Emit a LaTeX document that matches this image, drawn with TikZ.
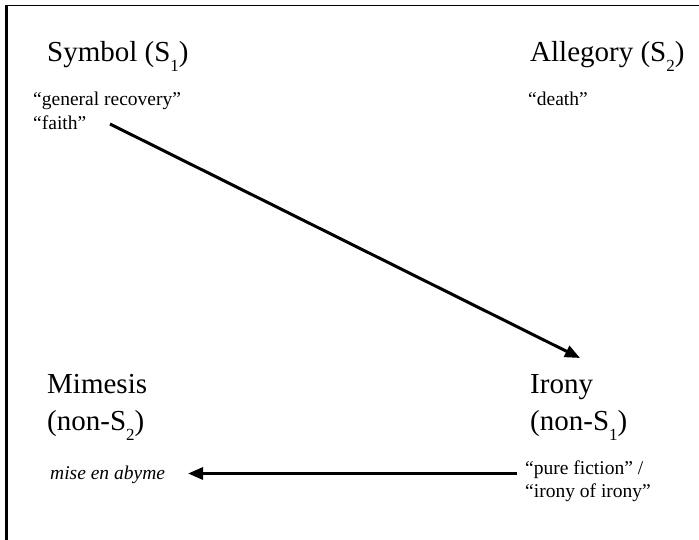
\documentclass[tikz,border=0pt]{standalone}
\usepackage{fontspec}
\setmainfont{Liberation Serif}
\usetikzlibrary{arrows.meta}
\newcommand{\lowidx}[1]{\raisebox{-10pt}{\fontsize{17}{17}\selectfont #1}}
\tikzset{
  title/.style={anchor=base west, inner sep=0pt, font=\fontsize{29}{37}\selectfont},
  note/.style={anchor=base west, inner sep=0pt, font=\fontsize{19.5}{24}\selectfont},
  conn/.style={line width=3pt, -{Triangle[length=15pt,width=12pt]}},
}
\begin{document}
\begin{tikzpicture}[x=1pt,y=-1pt]
\useasboundingbox (0,0) rectangle (699,540);
\draw[line width=1.8pt] (6,5.5) -- (699,5.5);
\draw[line width=3pt] (6.5,4.8) -- (6.5,540);

\node[title] (sym) at (47,62) {Symbol (S\lowidx{1})};
\node[title] (all) at (530,62) {Allegory (S\lowidx{2})};
\node[note] (symnote) at (33,106) {\begin{tabular}[t]{@{}l@{}}“general recovery”\\“faith”\end{tabular}};
\node[note] (allnote) at (528,106) {“death”};

\node[title] (mim) at (47,393) {\begin{tabular}[t]{@{}l@{}}Mimesis\\(non-S\lowidx{2})\end{tabular}};
\node[title] (iro) at (530,393) {\begin{tabular}[t]{@{}l@{}}Irony\\(non-S\lowidx{1})\end{tabular}};
\node[note] (mimnote) at (50,479) {\itshape mise en abyme};
\node[note, font=\fontsize{19.5}{23}\selectfont] (ironote) at (525,474) {\begin{tabular}[t]{@{}l@{}}“pure fiction” /\\“irony of irony”\end{tabular}};

\coordinate (d1) at (110,124);
\coordinate (d2) at (580,358);
\coordinate (h1) at (517,473.5);
\coordinate (h2) at (188,473.5);
\draw[conn] (d1) -- (d2);
\draw[conn] (h1) -- (h2);
\end{tikzpicture}
\end{document}
